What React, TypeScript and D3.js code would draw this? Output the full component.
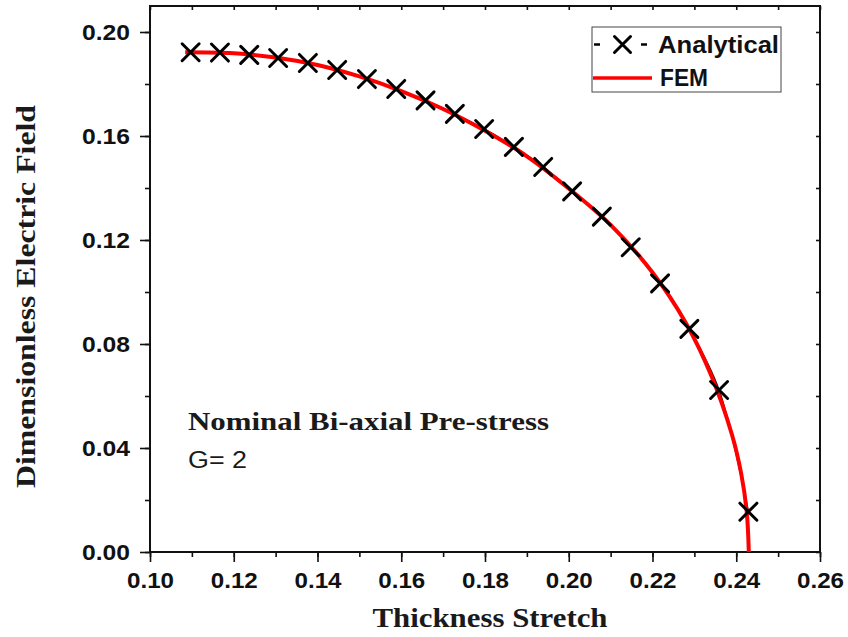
import React, { useEffect, useRef } from 'react'
import * as d3 from 'd3'

// Analytical solution (markers)
const analyticalStretch = [
  0.1097, 0.1167, 0.1237, 0.1306, 0.1377, 0.1447, 0.1518, 0.1588, 0.1658, 0.1728,
  0.1798, 0.1869, 0.1939, 0.2008, 0.2079, 0.2148, 0.2218, 0.2288, 0.2359, 0.2429,
]
const analyticalField = [
  0.1922, 0.1921, 0.1912, 0.19, 0.1881, 0.1854, 0.1819, 0.1781, 0.1737, 0.1685,
  0.1627, 0.1558, 0.1481, 0.1387, 0.129, 0.1172, 0.1033, 0.0858, 0.0623, 0.0155,
]

// FEM curve
const femStretch = [
  0.1084, 0.12, 0.13, 0.14, 0.15, 0.16, 0.17, 0.18, 0.19, 0.2, 0.21, 0.22, 0.228, 0.234,
  0.239, 0.2412, 0.2425, 0.243,
]
const femField = [
  0.1922, 0.1918, 0.1902, 0.1873, 0.1829, 0.1773, 0.1704, 0.162, 0.1522, 0.1398, 0.1258,
  0.1075, 0.088, 0.068, 0.045, 0.03, 0.0155, 0.0,
]

const xTicks = [0.1, 0.12, 0.14, 0.16, 0.18, 0.2, 0.22, 0.24, 0.26]
const yTicks = [0.0, 0.04, 0.08, 0.12, 0.16, 0.2]

const W = 848
const H = 637

function Chart() {
  const ref = useRef<SVGSVGElement | null>(null)

  useEffect(() => {
    const svg = d3.select(ref.current)
    svg.selectAll('*').remove()

    const x = d3.scaleLinear().domain([0.1, 0.26]).range([150, 820])
    const y = d3.scaleLinear().domain([0, 0.21]).range([552, 6])

    svg.append('rect').attr('width', W).attr('height', H).attr('fill', '#fff')

    const fmt = d3.format('.2f')

    // minor ticks
    svg
      .append('g')
      .attr('transform', 'translate(0,552)')
      .call(d3.axisBottom(x).ticks(16).tickSize(5).tickSizeOuter(0).tickFormat(() => ''))
    svg
      .append('g')
      .attr('transform', 'translate(150,0)')
      .call(d3.axisLeft(y).ticks(10).tickSize(5).tickSizeOuter(0).tickFormat(() => ''))
    svg
      .append('g')
      .attr('transform', 'translate(0,6)')
      .call(d3.axisTop(x).ticks(16).tickSize(-4).tickSizeOuter(0).tickFormat(() => ''))
    svg
      .append('g')
      .attr('transform', 'translate(820,0)')
      .call(d3.axisRight(y).ticks(10).tickSize(-4).tickSizeOuter(0).tickFormat(() => ''))

    // major ticks + labels
    const xAxis = svg
      .append('g')
      .attr('transform', 'translate(0,552)')
      .call(
        d3.axisBottom(x).tickValues(xTicks).tickSize(10).tickPadding(10).tickSizeOuter(0).tickFormat((d) => fmt(+d))
      )
    xAxis
      .selectAll('text')
      .attr('font-family', '"Liberation Sans", Arial, sans-serif')
      .attr('font-weight', 'bold')
      .attr('font-size', 22)
      .attr('fill', '#111')
      .attr('textLength', 47)
      .attr('lengthAdjust', 'spacingAndGlyphs')

    const yAxis = svg
      .append('g')
      .attr('transform', 'translate(150,0)')
      .call(
        d3.axisLeft(y).tickValues(yTicks).tickSize(10).tickPadding(10).tickSizeOuter(0).tickFormat((d) => fmt(+d))
      )
    yAxis
      .selectAll('text')
      .attr('font-family', '"Liberation Sans", Arial, sans-serif')
      .attr('font-weight', 'bold')
      .attr('font-size', 22)
      .attr('fill', '#111')
      .attr('textLength', 48)
      .attr('lengthAdjust', 'spacingAndGlyphs')

    svg.selectAll('.tick line').attr('stroke', '#111').attr('stroke-width', 1.6)
    svg.selectAll('.domain').attr('stroke', 'none')

    // frame
    svg
      .append('rect')
      .attr('x', 150)
      .attr('y', 6)
      .attr('width', 670)
      .attr('height', 546)
      .attr('fill', 'none')
      .attr('stroke', '#111')
      .attr('stroke-width', 2)

    // analytical connecting line (thin black)
    const aPts: [number, number][] = analyticalStretch.map((s, i) => [s, analyticalField[i]])
    const line = d3
      .line<[number, number]>()
      .x((d) => x(d[0]))
      .y((d) => y(d[1]))
      .curve(d3.curveCatmullRom)
    svg
      .append('path')
      .attr('d', line(aPts))
      .attr('fill', 'none')
      .attr('stroke', '#111')
      .attr('stroke-width', 1.5)

    // FEM curve
    const fPts: [number, number][] = femStretch.map((s, i) => [s, femField[i]])
    svg
      .append('path')
      .attr('d', line(fPts))
      .attr('fill', 'none')
      .attr('stroke', '#ff0000')
      .attr('stroke-width', 4)

    // markers
    const cross = (g: d3.Selection<SVGGElement, unknown, null, undefined>, cx: number, cy: number, r: number) => {
      g.append('path')
        .attr('d', `M${cx - r},${cy - r}L${cx + r},${cy + r}M${cx - r},${cy + r}L${cx + r},${cy - r}`)
        .attr('stroke', '#000')
        .attr('stroke-width', 3)
        .attr('stroke-linecap', 'round')
        .attr('fill', 'none')
    }
    const mk = svg.append('g') as d3.Selection<SVGGElement, unknown, null, undefined>
    aPts.forEach((d) => cross(mk, x(d[0]), y(d[1]), 8.5))

    // legend
    const lg = svg.append('g') as d3.Selection<SVGGElement, unknown, null, undefined>
    lg.append('rect')
      .attr('x', 592)
      .attr('y', 27)
      .attr('width', 189)
      .attr('height', 65)
      .attr('fill', '#fff')
      .attr('stroke', '#444')
      .attr('stroke-width', 1)
    lg.append('line').attr('x1', 594).attr('x2', 600).attr('y1', 44.5).attr('y2', 44.5).attr('stroke', '#000').attr('stroke-width', 2.5)
    lg.append('line').attr('x1', 641).attr('x2', 647).attr('y1', 44.5).attr('y2', 44.5).attr('stroke', '#000').attr('stroke-width', 2.5)
    cross(lg, 622.5, 44.5, 8)
    lg.append('line').attr('x1', 593).attr('x2', 652).attr('y1', 78).attr('y2', 78).attr('stroke', '#ff0000').attr('stroke-width', 3.5)
    lg.append('text')
      .attr('x', 658)
      .attr('y', 53)
      .attr('font-family', '"Liberation Sans", Arial, sans-serif')
      .attr('font-weight', 'bold')
      .attr('font-size', 24)
      .attr('fill', '#111')
      .attr('textLength', 121)
      .attr('lengthAdjust', 'spacingAndGlyphs')
      .text('Analytical')
    lg.append('text')
      .attr('x', 660)
      .attr('y', 86)
      .attr('font-family', '"Liberation Sans", Arial, sans-serif')
      .attr('font-weight', 'bold')
      .attr('font-size', 24)
      .attr('fill', '#111')
      .attr('textLength', 48)
      .attr('lengthAdjust', 'spacingAndGlyphs')
      .text('FEM')

    // axis titles
    svg
      .append('text')
      .attr('transform', 'translate(35,296.5) rotate(-90)')
      .attr('text-anchor', 'middle')
      .attr('font-family', '"Liberation Serif", "Times New Roman", serif')
      .attr('font-weight', 'bold')
      .attr('font-size', 27)
      .attr('fill', '#1a1a1a')
      .attr('textLength', 383)
      .attr('lengthAdjust', 'spacingAndGlyphs')
      .text('Dimensionless Electric Field')
    svg
      .append('text')
      .attr('x', 490)
      .attr('y', 627)
      .attr('text-anchor', 'middle')
      .attr('font-family', '"Liberation Serif", "Times New Roman", serif')
      .attr('font-weight', 'bold')
      .attr('font-size', 27)
      .attr('fill', '#1a1a1a')
      .attr('textLength', 235)
      .attr('lengthAdjust', 'spacingAndGlyphs')
      .text('Thickness Stretch')

    // annotation
    svg
      .append('text')
      .attr('x', 188)
      .attr('y', 430)
      .attr('font-family', '"Liberation Serif", "Times New Roman", serif')
      .attr('font-weight', 'bold')
      .attr('font-size', 25)
      .attr('fill', '#1a1a1a')
      .attr('textLength', 361)
      .attr('lengthAdjust', 'spacingAndGlyphs')
      .text('Nominal Bi-axial Pre-stress')
    svg
      .append('text')
      .attr('x', 188)
      .attr('y', 468)
      .attr('font-family', '"Liberation Sans", Arial, sans-serif')
      .attr('font-size', 23)
      .attr('fill', '#1a1a1a')
      .attr('textLength', 59)
      .attr('lengthAdjust', 'spacingAndGlyphs')
      .text('G= 2')
  }, [])

  return <svg ref={ref} width={W} height={H} style={{ position: 'absolute', left: 0, top: 0 }} />
}

export default function App() {
  return <Chart />
}
